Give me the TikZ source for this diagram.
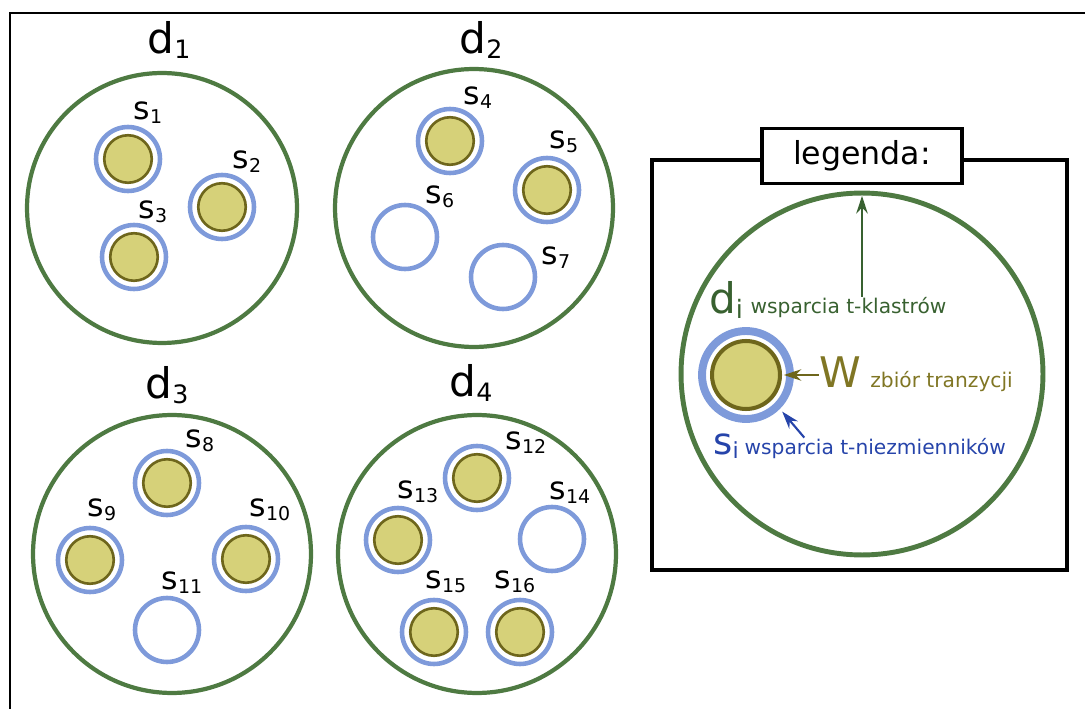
\documentclass[tikz,border=0pt]{standalone}
\usepackage{fontspec}
\setmainfont{DejaVu Sans}
\usetikzlibrary{positioning,arrows.meta}

\definecolor{clustergreen}{RGB}{78,122,66}
\definecolor{suppblue}{RGB}{126,154,218}
\definecolor{transyellow}{RGB}{214,209,121}
\definecolor{transolive}{RGB}{110,102,28}
\definecolor{notegreen}{RGB}{56,97,48}
\definecolor{noteolive}{RGB}{128,118,36}
\definecolor{noteblue}{RGB}{38,68,170}

% small index after a letter
\newcommand{\ix}[1]{\raisebox{-0.12em}{\scalebox{0.6}{#1}}}

\begin{document}
\begin{tikzpicture}[
    x=0.02cm, y=-0.02cm,
    cluster/.style={circle, draw=clustergreen, line width=2.4pt, minimum size=5.56cm, inner sep=0pt},
    supp/.style={circle, draw=suppblue, line width=2.6pt, minimum size=1.28cm, inner sep=0pt},
    trans/.style={circle, draw=transolive, fill=transyellow, line width=1.5pt, minimum size=0.95cm, inner sep=0pt},
    dlabel/.style={font=\fontsize{24}{28}\selectfont, inner sep=0pt},
    slabel/.style={font=\fontsize{18}{21}\selectfont, inner sep=0pt},
    note/.style={font=\fontsize{11.5}{14}\selectfont, inner sep=0pt},
    frame/.style={draw=black, line width=2pt},
    pointer/.style={-{Stealth[length=10pt,width=6.5pt]}, line width=1.2pt}
]
    \useasboundingbox (0,0) rectangle (1085,709);

    % Page edge
    \draw[line width=1.4pt] (1085,13) -- (10,13) -- (10,709);

    % Cluster d1
    \node[cluster, minimum size=5.4cm] (d1) at (162,208) {};
    \node[dlabel] (ld1) at (169,40) {d\ix{1}};
    \node[supp] (s1) at (128,159) {};
    \node[trans] (t1) at (s1) {};
    \node[slabel] (ls1) at (148,113) {s\ix{1}};
    \node[supp] (s2) at (222,207) {};
    \node[trans] (t2) at (s2) {};
    \node[slabel] (ls2) at (247,162) {s\ix{2}};
    \node[supp] (s3) at (134,257) {};
    \node[trans] (t3) at (s3) {};
    \node[slabel] (ls3) at (153,212) {s\ix{3}};

    % Cluster d2
    \node[cluster] (d2) at (474,208) {};
    \node[dlabel] (ld2) at (481,40) {d\ix{2}};
    \node[supp] (s4) at (450,141) {};
    \node[trans] (t4) at (s4) {};
    \node[slabel] (ls4) at (478,98) {s\ix{4}};
    \node[supp] (s5) at (547,190) {};
    \node[trans] (t5) at (s5) {};
    \node[slabel] (ls5) at (564,142) {s\ix{5}};
    \node[supp] (s6) at (405,237) {};
    \node[slabel] (ls6) at (440,197) {s\ix{6}};
    \node[supp] (s7) at (503,277) {};
    \node[slabel] (ls7) at (556,258) {s\ix{7}};

    % Cluster d3
    \node[cluster] (d3) at (172,554) {};
    \node[dlabel] (ld3) at (167,385) {d\ix{3}};
    \node[supp] (s8) at (167,483) {};
    \node[trans] (t8) at (s8) {};
    \node[slabel] (ls8) at (200,441) {s\ix{8}};
    \node[supp] (s9) at (90,560) {};
    \node[trans] (t9) at (s9) {};
    \node[slabel] (ls9) at (102,510) {s\ix{9}};
    \node[supp] (s10) at (246,559) {};
    \node[trans] (t10) at (s10) {};
    \node[slabel] (ls10) at (270,510) {s\ix{10}};
    \node[supp] (s11) at (167,630) {};
    \node[slabel] (ls11) at (182,583) {s\ix{11}};

    % Cluster d4
    \node[cluster] (d4) at (477,554) {};
    \node[dlabel] (ld4) at (471,383) {d\ix{4}};
    \node[supp] (s12) at (477,478) {};
    \node[trans] (t12) at (s12) {};
    \node[slabel] (ls12) at (526,443) {s\ix{12}};
    \node[supp] (s13) at (398,540) {};
    \node[trans] (t13) at (s13) {};
    \node[slabel] (ls13) at (418,492) {s\ix{13}};
    \node[supp] (s14) at (552,539) {};
    \node[slabel] (ls14) at (570,493) {s\ix{14}};
    \node[supp] (s15) at (434,632) {};
    \node[trans] (t15) at (s15) {};
    \node[slabel] (ls15) at (446,582) {s\ix{15}};
    \node[supp] (s16) at (520,632) {};
    \node[trans] (t16) at (s16) {};
    \node[slabel] (ls16) at (515,582) {s\ix{16}};

    % Legend
    \draw[frame] (652,160) rectangle (1067,570);
    \node[frame, fill=white, minimum width=4cm, minimum height=1.1cm,
          font=\fontsize{18}{21}\selectfont] (legenda) at (862,156) {legenda:};
    \node[cluster, line width=2.8pt, minimum size=7.24cm] (lcirc) at (862,374) {};
    \node[supp, line width=4.5pt, minimum size=1.76cm] (lring) at (746,375) {};
    \node[trans, line width=2.3pt, minimum size=1.36cm] (lfill) at (lring) {};

    \node[dlabel, text=notegreen] (di) at (726,300) {d\ix{i}};
    \node[note, text=notegreen, base right=4pt of di] (dtext) {wsparcia t-klastrów};
    \node[dlabel, text=noteolive] (W) at (840,372) {W};
    \node[note, text=noteolive, base right=5pt of W] (wtext) {zbiór tranzycji};
    \node[dlabel, font=\fontsize{21}{25}\selectfont, text=noteblue] (si) at (726,446) {s\ix{i}};
    \node[note, text=noteblue, base right=3pt of si] (stext) {wsparcia t-niezmienników};

    % Draw pointers
    \draw[pointer, notegreen, shorten >=3pt] (dtext.north -| lcirc.north) -- (lcirc.north);
    \draw[pointer, transolive, shorten >=1pt] (lfill.east -| W.west) -- (lfill.east);
    \draw[pointer, noteblue, shorten >=2pt] ([xshift=1.2cm]stext.north west) -- (lring.south east);

\end{tikzpicture}
\end{document}
